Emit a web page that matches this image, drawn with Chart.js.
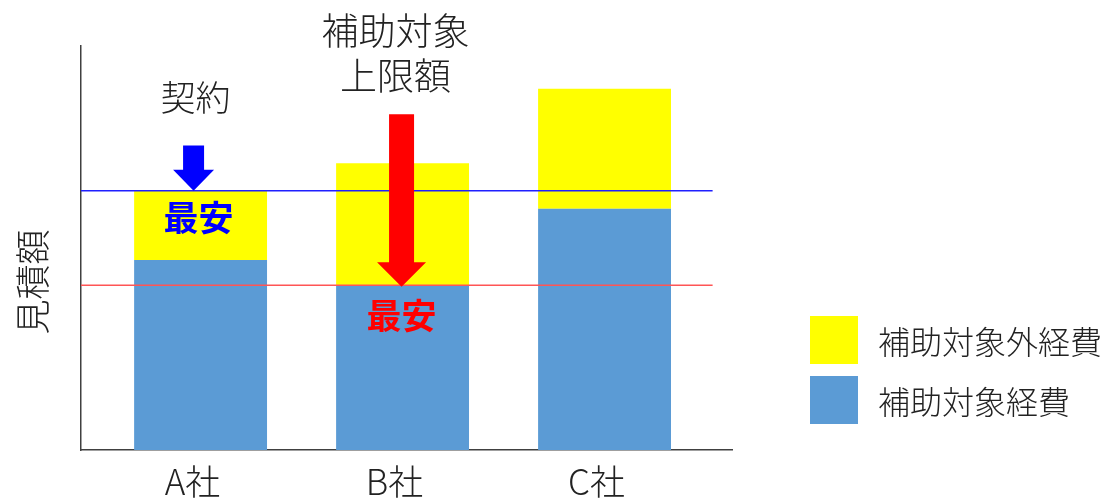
<!DOCTYPE html>
<html lang="ja">
<head>
<meta charset="utf-8">
<title>見積額</title>
<script src="https://cdn.jsdelivr.net/npm/chart.js@4/dist/chart.umd.min.js"></script>
<style>
    html, body { margin: 0; padding: 0; background: #fff; }
    #wrap { position: relative; width: 1108px; height: 499px; }
    #legend { position: absolute; left: 810px; top: 316px; font-family: "Noto Sans CJK JP", sans-serif; font-weight: 300; font-size: 32px; color: #222; }
    .item { display: flex; align-items: center; height: 48px; margin-bottom: 12px; }
    .swatch { width: 48px; height: 48px; margin-right: 20px; }
</style>
</head>
<body>
<div id="wrap">
    <canvas id="chart" width="1108" height="499"></canvas>
    <div id="legend"></div>
</div>
<script>
// data
const companies = ['A社', 'B社', 'C社'];
const subsidized = [47, 40.8, 59.7];       // 補助対象経費
const notSubsidized = [17.2, 30.2, 29.7];  // 補助対象外経費
const seriesNames = ['補助対象外経費', '補助対象経費'];
const colors = { yellow: '#ffff00', blue: '#5b9bd5' };

const FONT = '"Noto Sans CJK JP", sans-serif';
const TEXT = '#222222';

// index of lowest quote and lowest subsidised part
const total = subsidized.map((v, i) => v + notSubsidized[i]);
const cheapest = total.indexOf(Math.min(...total));
const cheapestSub = subsidized.indexOf(Math.min(...subsidized));

function drawArrow(ctx, cx, top, tip, shaftW, headW, headL, color) {
    ctx.fillStyle = color;
    ctx.beginPath();
    ctx.moveTo(cx - shaftW / 2, top);
    ctx.lineTo(cx + shaftW / 2, top);
    ctx.lineTo(cx + shaftW / 2, tip - headL);
    ctx.lineTo(cx + headW / 2, tip - headL);
    ctx.lineTo(cx, tip);
    ctx.lineTo(cx - headW / 2, tip - headL);
    ctx.lineTo(cx - shaftW / 2, tip - headL);
    ctx.closePath();
    ctx.fill();
}

function label(ctx, text, x, y, size, color, weight) {
    ctx.font = `${weight || 300} ${size}px ${FONT}`;
    ctx.fillStyle = color;
    ctx.textAlign = 'center';
    ctx.textBaseline = 'middle';
    ctx.fillText(text, x, y);
}

const annotations = {
    id: 'annotations',
    afterDatasetsDraw(chart) {
        const { ctx, chartArea, scales: { x, y } } = chart;
        const lineEnd = x.getPixelForValue(3.535);
        ctx.save();

        // reference lines
        ctx.lineWidth = 1.5;
        ctx.strokeStyle = '#1f1fff';
        const yLow = y.getPixelForValue(total[cheapest]);
        ctx.beginPath();
        ctx.moveTo(chartArea.left, yLow);
        ctx.lineTo(lineEnd, yLow);
        ctx.stroke();

        ctx.strokeStyle = '#ff5555';
        const yCap = y.getPixelForValue(subsidized[cheapestSub]);
        ctx.beginPath();
        ctx.moveTo(chartArea.left, yCap);
        ctx.lineTo(lineEnd, yCap);
        ctx.stroke();

        // 契約 arrow
        const ax = x.getPixelForValue(cheapest + 1) - 7;
        drawArrow(ctx, ax, y.getPixelForValue(75.4), yLow, 21, 41, 21, '#0000ff');
        label(ctx, '契約', ax + 2, y.getPixelForValue(87.1), 35, TEXT);
        label(ctx, '最安', ax + 5, y.getPixelForValue(57.6), 35, '#0000ff', 'bold');

        // 補助対象上限額 arrow
        const bx = x.getPixelForValue(cheapestSub + 1) - 1;
        drawArrow(ctx, bx, y.getPixelForValue(83.1), yCap + 1.5, 25, 49, 24.5, '#ff0000');
        label(ctx, '補助対象', bx - 6, y.getPixelForValue(103.8), 37, TEXT);
        label(ctx, '上限額', bx - 6, y.getPixelForValue(92.6), 37, TEXT);
        label(ctx, '最安', bx, y.getPixelForValue(33.2), 35, '#ff0000', 'bold');

        // y axis title
        ctx.translate(33, (chartArea.top + chartArea.bottom) / 2 + 34);
        ctx.rotate(-Math.PI / 2);
        label(ctx, '見積額', 0, 0, 35, TEXT);
        ctx.restore();
    }
};

const chart = new Chart('chart', {
    type: 'bar',
    data: {
        datasets: [{
            label: seriesNames[1],
            data: subsidized.map((v, i) => ({ x: i + 1, y: v })),
            backgroundColor: colors.blue,
            stack: 'cost',
            barPercentage: 0.658,
            categoryPercentage: 1
        }, {
            label: seriesNames[0],
            data: notSubsidized.map((v, i) => ({ x: i + 1, y: v })),
            backgroundColor: colors.yellow,
            stack: 'cost',
            barPercentage: 0.658,
            categoryPercentage: 1
        }]
    },
    options: {
        responsive: false,
        animation: false,
        layout: { padding: { left: 81, right: 376, top: 46, bottom: 0 } },
        plugins: { legend: { display: false }, tooltip: { enabled: false } },
        scales: {
            x: {
                type: 'linear',
                offset: false,
                min: 0.408,
                max: 3.631,
                grid: { display: false },
                border: { color: '#404040', width: 1.5 },
                afterBuildTicks: (s) => { s.ticks = companies.map((_, i) => ({ value: i + 1 })); },
                afterFit: (s) => { s.height = 49; },
                ticks: {
                    padding: 3,
                    labelOffset: -8,
                    color: TEXT,
                    font: { family: FONT, size: 35, weight: 300 },
                    callback: (v) => companies[v - 1]
                }
            },
            y: {
                min: 0,
                max: 100,
                stacked: true,
                grid: { display: false },
                border: { color: '#404040', width: 1.5 },
                ticks: { display: false },
                afterFit: (s) => { s.width = 0; }
            }
        }
    },
    plugins: [annotations]
});

// legend
const legend = document.getElementById('legend');
[[seriesNames[0], colors.yellow], [seriesNames[1], colors.blue]].forEach(([name, color]) => {
    const item = document.createElement('div');
    item.className = 'item';
    item.innerHTML = `<div class="swatch" style="background:${color}"></div><span>${name}</span>`;
    legend.appendChild(item);
});
</script>
</body>
</html>
